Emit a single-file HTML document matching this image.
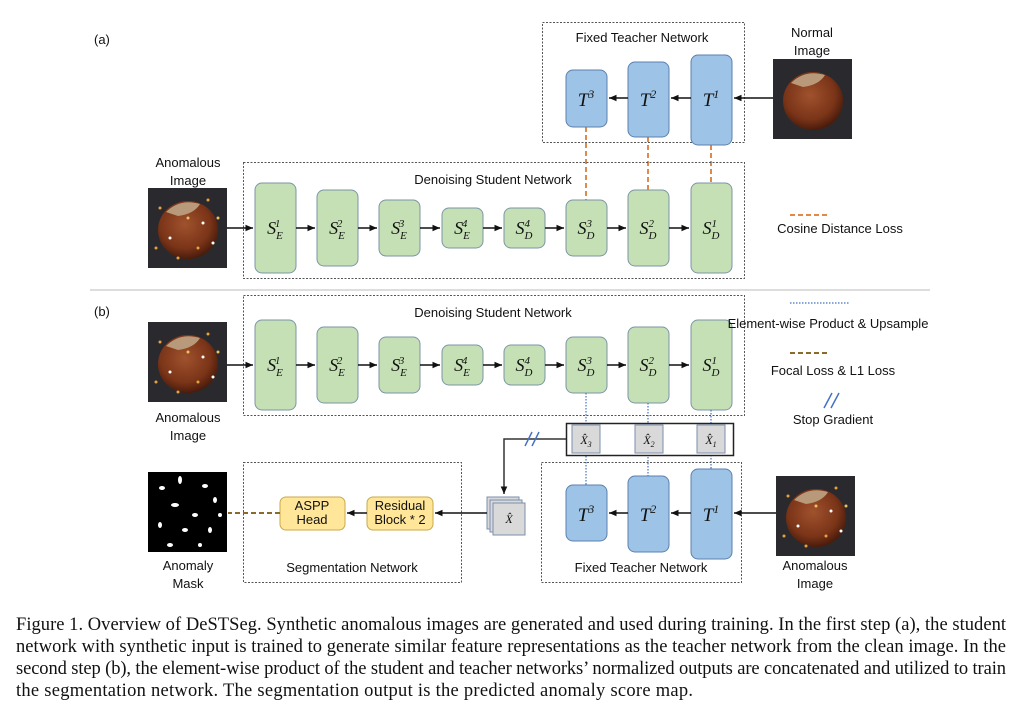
<!DOCTYPE html>
<html><head><meta charset="utf-8"><style>
body{margin:0;background:#fff;width:1022px;height:701px;overflow:hidden}
svg{display:block}
.s{font-family:"Liberation Sans",sans-serif;font-size:13px;fill:#111}
.m{font-family:"Liberation Serif",serif;font-style:italic;fill:#111}
.cap{font-family:"Liberation Serif",serif;font-size:18.5px;fill:#111}
</style></head><body>
<svg width="1022" height="701" viewBox="0 0 1022 701" xmlns="http://www.w3.org/2000/svg">
<defs>
<marker id="ar" markerWidth="6" markerHeight="6" refX="5" refY="3" orient="auto"><path d="M0,0.8 L5,3 L0,5.2z" fill="#111"/></marker>
<radialGradient id="nut" cx="45%" cy="40%" r="60%"><stop offset="0" stop-color="#a0522d"/><stop offset="0.7" stop-color="#7a3418"/><stop offset="1" stop-color="#4a1c0c"/></radialGradient>
<g id="img">
<rect width="79" height="80" fill="#2a2a2e"/>
<ellipse cx="40" cy="42" rx="30" ry="29" fill="url(#nut)"/>
<path d="M18,24 Q32,10 52,16 Q46,26 30,28z" fill="#b89a7a"/>
</g>
<g id="spots">
<circle cx="12" cy="20" r="1.5" fill="#e8a040"/><circle cx="60" cy="12" r="1.5" fill="#e8a040"/><circle cx="70" cy="30" r="1.5" fill="#f0c060"/><circle cx="22" cy="50" r="1.5" fill="#fff"/><circle cx="50" cy="60" r="1.5" fill="#e8a040"/><circle cx="8" cy="60" r="1.5" fill="#e8a040"/><circle cx="40" cy="30" r="1.5" fill="#f0c060"/><circle cx="65" cy="55" r="1.5" fill="#fff"/><circle cx="30" cy="70" r="1.5" fill="#e8a040"/><circle cx="55" cy="35" r="1.5" fill="#fff"/>
</g>
</defs>

<!-- (a) -->
<text x="94" y="44" class="s">(a)</text>
<rect x="542.5" y="22.5" width="202" height="120" fill="none" stroke="#555" stroke-dasharray="2,1.5"/>
<text x="642" y="42" class="s" text-anchor="middle">Fixed Teacher Network</text>
<text x="812" y="37" class="s" text-anchor="middle">Normal</text>
<text x="812" y="55" class="s" text-anchor="middle">Image</text>
<use href="#img" x="773" y="59"/>

<g stroke="#e08a4a" stroke-width="2" stroke-dasharray="5,3">
<line x1="586" y1="127" x2="586" y2="200"/><line x1="648" y1="137" x2="648" y2="190"/><line x1="711" y1="145" x2="711" y2="183"/>
</g>
<g fill="#9dc3e6" stroke="#5b80b0">
<rect x="566" y="70" width="41" height="57" rx="7"/><rect x="628" y="62" width="41" height="75" rx="7"/><rect x="691" y="55" width="41" height="90" rx="7"/>
</g>
<text x="586" y="106" class="m" font-size="19" text-anchor="middle">T<tspan font-size="12" dy="-8">3</tspan></text>
<text x="648" y="106" class="m" font-size="19" text-anchor="middle">T<tspan font-size="12" dy="-8">2</tspan></text>
<text x="711" y="106" class="m" font-size="19" text-anchor="middle">T<tspan font-size="12" dy="-8">1</tspan></text>
<g stroke="#111" stroke-width="1.5" marker-end="url(#ar)">
<line x1="773" y1="98" x2="734" y2="98"/><line x1="691" y1="98" x2="671" y2="98"/><line x1="628" y1="98" x2="609" y2="98"/>
</g>

<rect x="243.5" y="162.5" width="501" height="116" fill="none" stroke="#555" stroke-dasharray="2,1.5"/>
<text x="493" y="184" class="s" text-anchor="middle">Denoising Student Network</text>
<text x="188" y="167" class="s" text-anchor="middle">Anomalous</text>
<text x="188" y="185" class="s" text-anchor="middle">Image</text>
<use href="#img" x="148" y="188"/><use href="#spots" x="148" y="188"/>

<g id="stud">
<g fill="#c5e0b4" stroke="#7b95a8">
<rect x="255" y="183" width="41" height="90" rx="7"/><rect x="317" y="190" width="41" height="76" rx="7"/><rect x="379" y="200" width="41" height="56" rx="7"/><rect x="442" y="208" width="41" height="40" rx="7"/><rect x="504" y="208" width="41" height="40" rx="7"/><rect x="566" y="200" width="41" height="56" rx="7"/><rect x="628" y="190" width="41" height="76" rx="7"/><rect x="691" y="183" width="41" height="90" rx="7"/>
</g>
<g stroke="#111" stroke-width="1.5" marker-end="url(#ar)">
<line x1="227" y1="228" x2="253" y2="228"/><line x1="296" y1="228" x2="315" y2="228"/><line x1="358" y1="228" x2="377" y2="228"/><line x1="420" y1="228" x2="440" y2="228"/><line x1="483" y1="228" x2="502" y2="228"/><line x1="545" y1="228" x2="564" y2="228"/><line x1="607" y1="228" x2="626" y2="228"/><line x1="669" y1="228" x2="689" y2="228"/>
</g>
<g class="m" font-size="18" text-anchor="middle">
<text x="275" y="234">S<tspan font-size="11" dy="5">E</tspan><tspan font-size="11" dx="-8" dy="-12">1</tspan></text>
<text x="337" y="234">S<tspan font-size="11" dy="5">E</tspan><tspan font-size="11" dx="-8" dy="-12">2</tspan></text>
<text x="399" y="234">S<tspan font-size="11" dy="5">E</tspan><tspan font-size="11" dx="-8" dy="-12">3</tspan></text>
<text x="462" y="234">S<tspan font-size="11" dy="5">E</tspan><tspan font-size="11" dx="-8" dy="-12">4</tspan></text>
<text x="524" y="234">S<tspan font-size="11" dy="5">D</tspan><tspan font-size="11" dx="-8" dy="-12">4</tspan></text>
<text x="586" y="234">S<tspan font-size="11" dy="5">D</tspan><tspan font-size="11" dx="-8" dy="-12">3</tspan></text>
<text x="648" y="234">S<tspan font-size="11" dy="5">D</tspan><tspan font-size="11" dx="-8" dy="-12">2</tspan></text>
<text x="711" y="234">S<tspan font-size="11" dy="5">D</tspan><tspan font-size="11" dx="-8" dy="-12">1</tspan></text>
</g>
</g>

<line x1="790" y1="215" x2="830" y2="215" stroke="#e08a4a" stroke-width="2" stroke-dasharray="5,3"/>
<text x="840" y="233" class="s" font-size="11.5" text-anchor="middle">Cosine Distance Loss</text>

<line x1="90" y1="290" x2="930" y2="290" stroke="#bbb"/>

<!-- (b) -->
<text x="94" y="316" class="s">(b)</text>
<rect x="243.5" y="295.5" width="501" height="120" fill="none" stroke="#555" stroke-dasharray="2,1.5"/>
<text x="493" y="317" class="s" text-anchor="middle">Denoising Student Network</text>
<use href="#img" x="148" y="322"/><use href="#spots" x="148" y="322"/>
<text x="188" y="422" class="s" text-anchor="middle">Anomalous</text>
<text x="188" y="440" class="s" text-anchor="middle">Image</text>
<use href="#stud" x="0" y="137"/>

<g stroke="#4472c4" stroke-width="1.2" stroke-dasharray="1.5,1.5">
<line x1="586" y1="393" x2="586" y2="485"/><line x1="648" y1="403" x2="648" y2="476"/><line x1="711" y1="410" x2="711" y2="469"/>
<line x1="790" y1="303" x2="850" y2="303"/>
</g>
<text x="828" y="328" class="s" font-size="11" text-anchor="middle">Element-wise Product &amp; Upsample</text>
<line x1="790" y1="353" x2="830" y2="353" stroke="#8b6a2a" stroke-width="2" stroke-dasharray="5,3"/>
<text x="833" y="375" class="s" font-size="11" text-anchor="middle">Focal Loss &amp; L1 Loss</text>
<g stroke="#4472c4" stroke-width="1.5"><line x1="824" y1="408" x2="832" y2="393"/><line x1="831" y1="408" x2="839" y2="393"/></g>
<text x="833" y="424" class="s" font-size="11" text-anchor="middle">Stop Gradient</text>

<rect x="566.5" y="423.5" width="167" height="32" fill="#fff" stroke="#222" stroke-width="1.5"/>
<g fill="#d9d9d9" stroke="#7b8fb0">
<rect x="572" y="425" width="28" height="28"/><rect x="635" y="425" width="28" height="28"/><rect x="697" y="425" width="28" height="28"/>
</g>
<g class="m" font-size="12" text-anchor="middle">
<text x="586" y="444">X̂<tspan font-size="8" dy="3">3</tspan></text>
<text x="649" y="444">X̂<tspan font-size="8" dy="3">2</tspan></text>
<text x="711" y="444">X̂<tspan font-size="8" dy="3">1</tspan></text>
</g>
<polyline points="566,439 504,439 504,494" fill="none" stroke="#333" stroke-width="1.5" marker-end="url(#ar)"/>
<g stroke="#4472c4" stroke-width="1.5"><line x1="525" y1="446" x2="532" y2="432"/><line x1="532" y1="446" x2="539" y2="432"/></g>

<rect x="541.5" y="462.5" width="200" height="120" fill="none" stroke="#555" stroke-dasharray="2,1.5"/>
<g fill="#9dc3e6" stroke="#5b80b0">
<rect x="566" y="485" width="41" height="56" rx="7"/><rect x="628" y="476" width="41" height="76" rx="7"/><rect x="691" y="469" width="41" height="90" rx="7"/>
</g>
<text x="586" y="521" class="m" font-size="19" text-anchor="middle">T<tspan font-size="12" dy="-8">3</tspan></text>
<text x="648" y="521" class="m" font-size="19" text-anchor="middle">T<tspan font-size="12" dy="-8">2</tspan></text>
<text x="711" y="521" class="m" font-size="19" text-anchor="middle">T<tspan font-size="12" dy="-8">1</tspan></text>
<text x="641" y="572" class="s" text-anchor="middle">Fixed Teacher Network</text>
<g stroke="#111" stroke-width="1.5" marker-end="url(#ar)">
<line x1="776" y1="513" x2="734" y2="513"/><line x1="691" y1="513" x2="671" y2="513"/><line x1="628" y1="513" x2="609" y2="513"/>
</g>
<use href="#img" x="776" y="476"/><use href="#spots" x="776" y="476"/>
<text x="815" y="570" class="s" text-anchor="middle">Anomalous</text>
<text x="815" y="588" class="s" text-anchor="middle">Image</text>

<g fill="#d9d9d9" stroke="#7b8fb0">
<rect x="487" y="497" width="32" height="32"/><rect x="490" y="500" width="32" height="32"/><rect x="493" y="503" width="32" height="32"/>
</g>
<text x="509" y="523" class="m" font-size="12" text-anchor="middle">X̂</text>
<line x1="487" y1="513" x2="435" y2="513" stroke="#111" stroke-width="1.5" marker-end="url(#ar)"/>

<rect x="243.5" y="462.5" width="218" height="120" fill="none" stroke="#555" stroke-dasharray="2,1.5"/>
<text x="352" y="572" class="s" text-anchor="middle">Segmentation Network</text>
<rect x="367" y="497" width="66" height="33" rx="6" fill="#ffe699" stroke="#c9a94a"/>
<text x="400" y="510" class="s" font-size="11.5" text-anchor="middle">Residual</text>
<text x="400" y="524" class="s" font-size="11.5" text-anchor="middle">Block * 2</text>
<rect x="280" y="497" width="65" height="33" rx="6" fill="#ffe699" stroke="#c9a94a"/>
<text x="312" y="510" class="s" font-size="11.5" text-anchor="middle">ASPP</text>
<text x="312" y="524" class="s" font-size="11.5" text-anchor="middle">Head</text>
<line x1="367" y1="513" x2="347" y2="513" stroke="#111" stroke-width="1.5" marker-end="url(#ar)"/>
<line x1="280" y1="513" x2="228" y2="513" stroke="#8b6a2a" stroke-width="2" stroke-dasharray="5,3"/>

<rect x="148" y="472" width="79" height="80" fill="#000"/>
<g fill="#fff">
<ellipse cx="162" cy="488" rx="3" ry="2"/><ellipse cx="180" cy="480" rx="2" ry="4"/><ellipse cx="205" cy="486" rx="3" ry="2"/><ellipse cx="215" cy="500" rx="2" ry="3"/><ellipse cx="175" cy="505" rx="4" ry="2"/><ellipse cx="195" cy="515" rx="3" ry="2"/><ellipse cx="160" cy="525" rx="2" ry="3"/><ellipse cx="185" cy="530" rx="3" ry="2"/><ellipse cx="210" cy="530" rx="2" ry="3"/><ellipse cx="170" cy="545" rx="3" ry="2"/><ellipse cx="200" cy="545" rx="2" ry="2"/><ellipse cx="220" cy="515" rx="2" ry="2"/>
</g>
<text x="188" y="570" class="s" text-anchor="middle">Anomaly</text>
<text x="188" y="588" class="s" text-anchor="middle">Mask</text>

<!-- caption -->
<text x="16" y="630" class="cap" textLength="990" lengthAdjust="spacing">Figure 1.  Overview of DeSTSeg.  Synthetic anomalous images are generated and used during training.  In the first step (a), the student</text>
<text x="16" y="652" class="cap" textLength="990" lengthAdjust="spacing">network with synthetic input is trained to generate similar feature representations as the teacher network from the clean image.  In the</text>
<text x="16" y="674" class="cap" textLength="990" lengthAdjust="spacing">second step (b), the element-wise product of the student and teacher networks’ normalized outputs are concatenated and utilized to train</text>
<text x="16" y="696" class="cap" textLength="677" lengthAdjust="spacing">the segmentation network. The segmentation output is the predicted anomaly score map.</text>
</svg>
</body></html>
